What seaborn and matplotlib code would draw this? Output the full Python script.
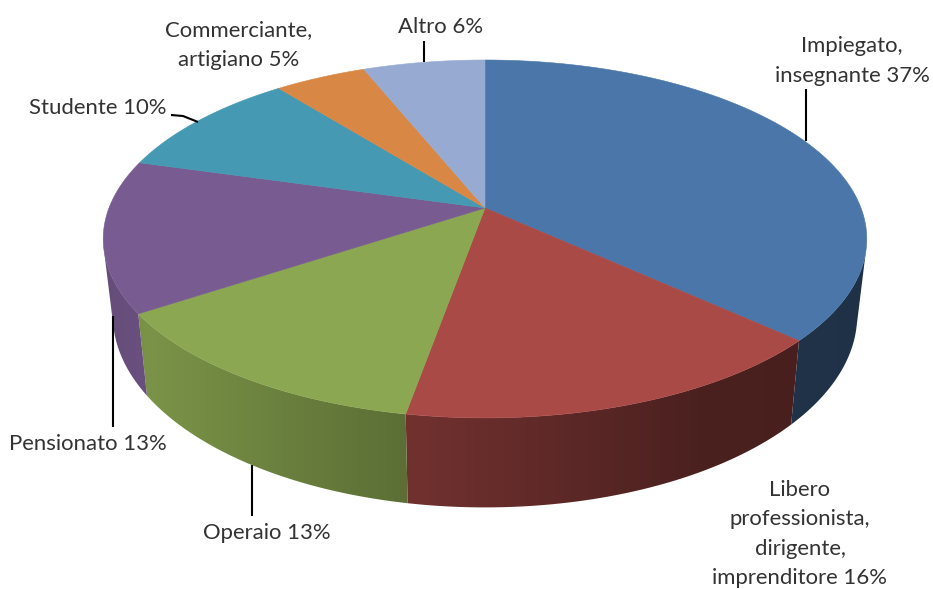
import numpy as np
import matplotlib
matplotlib.use("Agg")
import matplotlib.pyplot as plt
from matplotlib.patches import Polygon
import seaborn as sns

categories = ["Impiegato,\ninsegnante", "Libero\nprofessionista,\ndirigente,\nimprenditore",
              "Operaio", "Pensionato", "Studente", "Commerciante,\nartigiano", "Altro"]
labelled_percent = [37, 16, 13, 13, 10, 5, 6]
slice_sizes = [36.8, 16.0, 12.9, 13.7, 9.9, 4.6, 6.1]
colors = ["#4a76a9", "#aa4a47", "#8ba751", "#785b90", "#4599b2", "#d98745", "#97abd2"]

sns.set_theme(style="white")
plt.rcParams["font.family"] = ["Lato", "DejaVu Sans"]
palette = sns.color_palette(colors)

# perspective of the pie disc, in figure pixels
CX, CY, BX, AY, K = 485.0, 208.0, 376.0, 173.6, 0.173
DEPTH, SHRINK = 74.0, 0.975


def top_rim(theta):
    X, Y = np.sin(theta), np.cos(theta)
    d = 1 + K * Y
    return CX + BX * X / d, CY - AY * Y / d


def bottom_rim(theta):
    x, y = top_rim(theta)
    return CX + SHRINK * (x - CX), y + DEPTH / (1 + K * np.cos(theta))


def facing(theta):
    # positive where the wall faces the viewer
    e = 1e-4
    xa, ya = top_rim(theta - e)
    xb, yb = top_rim(theta + e)
    x0, y0 = top_rim(theta)
    x1, y1 = bottom_rim(theta)
    return ((xb - xa) * (y1 - y0) - (yb - ya) * (x1 - x0)) * -1


def shade(x):
    return np.interp(x, [100, 150, 405, 420, 700, 870], [0.84, 0.88, 0.66, 0.66, 0.44, 0.42])


fig = plt.figure(figsize=(9.33, 5.89), dpi=100, facecolor="white")
ax = fig.add_axes([0, 0, 1, 1])
ax.axis("off")

shares = np.array(slice_sizes, dtype=float) / np.sum(slice_sizes)
edges = 2 * np.pi * np.concatenate([[0], np.cumsum(shares)])

# side wall: horizontal gradient clipped to the visible part of each slice's wall
grad_x = np.linspace(90, 880, 400)
sign = np.sign(facing(np.array([np.pi]))[0])
for i, col in enumerate(palette):
    t = np.linspace(edges[i], edges[i + 1], 800)
    t = t[facing(t) * sign > 0]
    if len(t) < 2:
        continue
    x0, y0 = top_rim(t)
    x1, y1 = bottom_rim(t)
    poly = Polygon(np.c_[np.r_[x0, x1[::-1]], np.r_[y0, y1[::-1]]], closed=True,
                   transform=ax.transData, facecolor="none", edgecolor="none")
    ax.add_patch(poly)
    img = np.array(col)[None, None, :] * shade(grad_x)[None, :, None]
    im = ax.imshow(img, extent=[90, 880, 520, 40], aspect="auto", interpolation="bilinear", zorder=1)
    im.set_clip_path(poly)

# top face
for i, col in enumerate(palette):
    t = np.linspace(edges[i], edges[i + 1], 200)
    x, y = top_rim(t)
    ax.fill(np.r_[CX, x], np.r_[CY, y], color=col, lw=0.4, zorder=2)

# leaders
leaders = [([806, 806], [89, 141]), ([113, 113], [316, 427]), ([252, 252], [465, 516]),
           ([424, 424], [41, 62]), ([171, 183, 198], [115, 116, 122])]
for lx, ly in leaders:
    ax.plot(lx, ly, color="black", lw=1.5, solid_capstyle="butt", zorder=5)

# labels
label_pos = [(852, 61), (800, 534), (267, 533), (88, 444), (98, 108), (239, 45), (441, 27)]
for name, v, (tx, ty) in zip(categories, labelled_percent, label_pos):
    ax.text(tx, ty, f"{name} {v}%", ha="center", va="center", fontsize=15.9,
            color="#333333", linespacing=1.57, zorder=6)

ax.set_xlim(0, 933)
ax.set_ylim(589, 0)
fig.savefig("out.png", dpi=100, facecolor="white")
